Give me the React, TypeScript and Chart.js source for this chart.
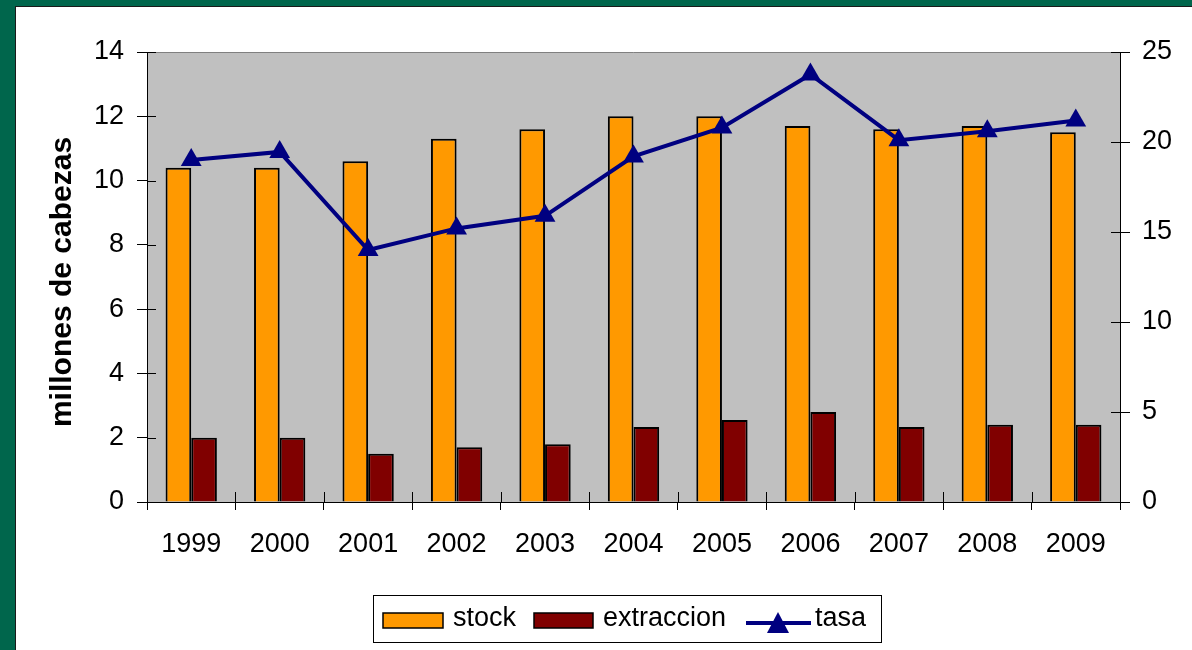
import React, { useEffect, useRef } from "react";
import { Chart, registerables } from "chart.js";

Chart.register(...registerables);

const years = ["1999", "2000", "2001", "2002", "2003", "2004", "2005", "2006", "2007", "2008", "2009"];
const stock = [10.4, 10.4, 10.6, 11.3, 11.6, 12.0, 12.0, 11.7, 11.6, 11.7, 11.5];
const extraccion = [2.0, 2.0, 1.5, 1.7, 1.8, 2.33, 2.55, 2.8, 2.33, 2.4, 2.4];
const tasa = [19.0, 19.45, 14.0, 15.2, 15.9, 19.2, 20.8, 23.75, 20.1, 20.6, 21.2];
const leftTicks = { min: 0, max: 14, step: 2 };
const rightTicks = { min: 0, max: 25, step: 5 };
const yTitle = "millones de cabezas";

const FONT = "'Liberation Sans', Arial, sans-serif";
const ORANGE = "#FF9900";
const MAROON = "#800000";
const NAVY = "#000080";

const decorPlugin = {
  id: "decor",
  beforeDraw(chart: any) {
    const { ctx, chartArea: a } = chart;
    ctx.save();
    ctx.fillStyle = "#C0C0C0";
    ctx.fillRect(a.left, a.top, a.right - a.left, a.bottom - a.top);
    ctx.restore();
  },
  beforeDatasetsDraw(chart: any) {
    const { ctx, chartArea: a, scales } = chart;
    ctx.save();
    ctx.lineWidth = 1;
    ctx.strokeStyle = "#808080";
    ctx.beginPath();
    ctx.moveTo(a.left, a.top + 0.5);
    ctx.lineTo(a.right, a.top + 0.5);
    ctx.stroke();
    ctx.strokeStyle = "#000";
    const line = (x1: number, y1: number, x2: number, y2: number) => {
      ctx.beginPath();
      ctx.moveTo(x1, y1);
      ctx.lineTo(x2, y2);
      ctx.stroke();
    };
    const xs = scales.x;
    for (let i = 0; i <= years.length; i++) {
      const px = Math.round(xs.getPixelForValue(i - 0.5)) + 0.5;
      line(px, a.bottom - 10, px, a.bottom);
    }
    scales.y.ticks.forEach((t: any) => {
      const py = Math.round(scales.y.getPixelForValue(t.value)) + 0.5;
      line(a.left, py, a.left + 9, py);
    });
    scales.y1.ticks.forEach((t: any) => {
      const py = Math.round(scales.y1.getPixelForValue(t.value)) + 0.5;
      line(a.right - 9, py, a.right, py);
    });
    // y axis title
    ctx.fillStyle = "#000";
    ctx.font = `bold 30px ${FONT}`;
    ctx.textAlign = "center";
    ctx.textBaseline = "middle";
    ctx.translate(63, 282);
    ctx.rotate(-Math.PI / 2);
    ctx.fillText(yTitle, 0, 0);
    ctx.restore();
  },
};

const legendPlugin = {
  id: "customLegend",
  afterDraw(chart: any) {
    const { ctx } = chart;
    ctx.save();
    ctx.lineWidth = 1;
    ctx.strokeStyle = "#000";
    ctx.strokeRect(373.5, 595.5, 508, 47);
    ctx.font = `27px ${FONT}`;
    ctx.fillStyle = "#000";
    ctx.textBaseline = "middle";
    ctx.textAlign = "left";
    // stock
    ctx.fillStyle = ORANGE;
    ctx.fillRect(383, 613, 60, 15);
    ctx.lineWidth = 1.5;
    ctx.strokeRect(383, 613, 60, 15);
    ctx.fillStyle = "#000";
    ctx.fillText("stock", 453, 619);
    // extraccion
    ctx.fillStyle = MAROON;
    ctx.fillRect(534, 613, 59, 15);
    ctx.strokeRect(534, 613, 59, 15);
    ctx.fillStyle = "#000";
    ctx.fillText("extraccion", 603, 619);
    // tasa
    ctx.strokeStyle = NAVY;
    ctx.lineWidth = 4;
    ctx.beginPath();
    ctx.moveTo(746, 623);
    ctx.lineTo(811, 623);
    ctx.stroke();
    ctx.fillStyle = NAVY;
    ctx.beginPath();
    ctx.moveTo(778, 612);
    ctx.lineTo(767, 633);
    ctx.lineTo(789, 633);
    ctx.closePath();
    ctx.fill();
    ctx.fillStyle = "#000";
    ctx.fillText("tasa", 815, 619);
    ctx.restore();
  },
};

export default function App() {
  const ref = useRef<HTMLCanvasElement | null>(null);

  useEffect(() => {
    if (!ref.current) return;
    const tickFont = { family: FONT, size: 27 };
    const chart = new Chart(ref.current, {
      type: "bar",
      data: {
        labels: years,
        datasets: [
          {
            type: "line",
            label: "tasa",
            data: tasa,
            yAxisID: "y1",
            borderColor: NAVY,
            backgroundColor: NAVY,
            borderWidth: 4,
            pointStyle: "triangle",
            pointRadius: 12,
            pointBorderWidth: 0,
            pointBackgroundColor: NAVY,
            tension: 0,
            order: 0,
          } as any,
          {
            label: "stock",
            data: stock,
            yAxisID: "y",
            backgroundColor: ORANGE,
            borderColor: "#000",
            borderWidth: 2,
            order: 1,
          },
          {
            label: "extraccion",
            data: extraccion,
            yAxisID: "y",
            backgroundColor: MAROON,
            borderColor: "#000",
            borderWidth: 2,
            order: 1,
          },
        ],
      },
      options: {
        responsive: false,
        animation: false,
        layout: { padding: { top: 52, left: 0, right: 0, bottom: 0 } },
        datasets: { bar: { categoryPercentage: 0.58, barPercentage: 1 } },
        plugins: { legend: { display: false }, tooltip: { enabled: false } },
        scales: {
          x: {
            offset: true,
            grid: { display: true, drawOnChartArea: false, offset: true, color: "#000", tickLength: 8 },
            border: { display: true, color: "#000", width: 1 },
            ticks: { font: tickFont, color: "#000", padding: 18, maxRotation: 0, autoSkip: false },
            afterFit: (s: any) => {
              s.height = 148;
            },
          },
          y: {
            position: "left",
            min: leftTicks.min,
            max: leftTicks.max,
            ticks: { stepSize: leftTicks.step, font: tickFont, color: "#000", padding: 13 },
            grid: { drawOnChartArea: false, color: "#000", tickLength: 10 },
            border: { display: true, color: "#000", width: 1 },
            afterFit: (s: any) => {
              s.width = 147;
            },
          },
          y1: {
            position: "right",
            min: rightTicks.min,
            max: rightTicks.max,
            ticks: { stepSize: rightTicks.step, font: tickFont, color: "#000", padding: 12 },
            grid: { drawOnChartArea: false, color: "#000", tickLength: 10 },
            border: { display: true, color: "#000", width: 1 },
            afterFit: (s: any) => {
              s.width = 72;
            },
          },
        },
      } as any,
      plugins: [decorPlugin, legendPlugin],
    });
    return () => chart.destroy();
  }, []);

  return (
    <div
      style={{
        position: "fixed",
        left: 0,
        top: 0,
        width: 1192,
        height: 650,
        background: "#00664C",
        overflow: "hidden",
      }}
    >
      <div
        style={{
          position: "absolute",
          left: 15,
          top: 6,
          width: 1300,
          height: 800,
          background: "#fff",
          borderLeft: "1px solid #1a1a1a",
          borderTop: "1px solid #1a1a1a",
        }}
      />
      <canvas
        ref={ref}
        width={1192}
        height={650}
        style={{ position: "absolute", left: 0, top: 0, width: 1192, height: 650 }}
      />
    </div>
  );
}
